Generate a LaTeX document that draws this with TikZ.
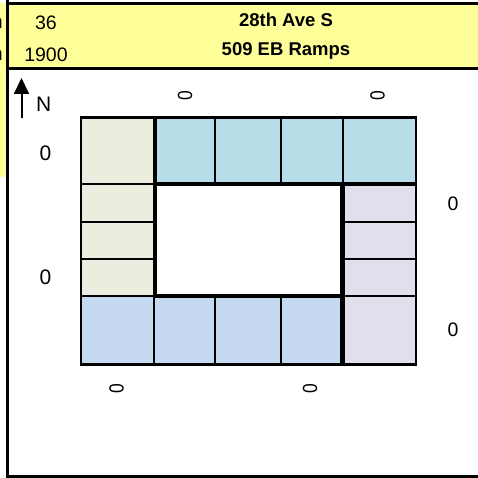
\documentclass[tikz,border=0pt]{standalone}
\usepackage{fontspec}
\usepackage{graphicx}
\setmainfont{Liberation Sans}
\usetikzlibrary{arrows.meta}
\definecolor{hdr}{HTML}{FFFF99}
\definecolor{cgreen}{HTML}{EBEEDF}
\definecolor{cteal}{HTML}{B7DDE8}
\definecolor{clav}{HTML}{E1DFEC}
\definecolor{cblue}{HTML}{C5D9F1}
\tikzset{
  cell/.style={draw=black, line width=2pt},
  thick line/.style={line width=4.2pt},
  frame/.style={line width=2.6pt},
  lblw/.style={font=\fontsize{21}{22}\selectfont, inner sep=0pt},
  lble/.style={font=\fontsize{19.5}{22}\selectfont, inner sep=0pt},
  lblr/.style={font=\fontsize{20.5}{22}\selectfont, inner sep=0pt},
  hd/.style={font=\fontsize{19.5}{22}\selectfont, inner sep=0pt},
  hdb/.style={font=\bfseries\fontsize{18.5}{22}\selectfont, inner sep=0pt},
}
\newcommand{\rotzero}{\scalebox{1}[0.85]{\rotatebox{90}{0}}}
\begin{document}
\begin{tikzpicture}[x=1pt,y=-1pt]
\useasboundingbox (0,0) rectangle (478,478);
% header band
\fill[hdr] (0,3.5) rectangle (478,68.5);
\fill[hdr] (0,3.5) rectangle (7,177);
% clipped left text
\node[hd, anchor=east] (ca) at (3,23) {n};
\node[hd, anchor=east] (cb) at (3,55) {n};
% frame lines
\draw[frame] (7.5,0) -- (7.5,478);
\draw[frame] (7.5,3.5) -- (478,3.5);
\draw[frame] (7.5,68.5) -- (478,68.5);
\draw[frame] (7.5,476.5) -- (478,476.5);
% header texts
\node[hd] (v1) at (46,22.5) {36};
\node[hd] (v2) at (46,55) {1900};
\node[hdb] (s1) at (286,19.5) {28th Ave S};
\node[hdb] (s2) at (286,51) {509 EB Ramps};
% north arrow
\coordinate (nb) at (21.5,118);
\coordinate (nt) at (21.5,78);
\draw[line width=2pt, -{Triangle[length=16pt,width=15pt]}] (nb) -- (nt);
\node[font=\fontsize{21}{22}\selectfont, inner sep=0pt] (N) at (43.7,104) {N};
% cells: top row
\draw[cell, fill=cgreen] (81,117.5) rectangle (155,184);
\draw[cell, fill=cteal] (155,117.5) rectangle (215,184);
\draw[cell, fill=cteal] (215,117.5) rectangle (281,184);
\draw[cell, fill=cteal] (281,117.5) rectangle (342.5,184);
\draw[cell, fill=cteal] (342.5,117.5) rectangle (416,184);
% left column
\draw[cell, fill=cgreen] (81,184) rectangle (155,222);
\draw[cell, fill=cgreen] (81,222) rectangle (155,259);
\draw[cell, fill=cgreen] (81,259) rectangle (155,296);
% right column
\draw[cell, fill=clav] (342.5,184) rectangle (416,222);
\draw[cell, fill=clav] (342.5,222) rectangle (416,259);
\draw[cell, fill=clav] (342.5,259) rectangle (416,296);
% bottom row
\draw[cell, fill=cblue] (81,296) rectangle (154,364.5);
\draw[cell, fill=cblue] (154,296) rectangle (215,364.5);
\draw[cell, fill=cblue] (215,296) rectangle (281,364.5);
\draw[cell, fill=cblue] (281,296) rectangle (342.5,364.5);
\draw[cell, fill=clav] (342.5,296) rectangle (416,364.5);
% centre
\draw[thick line, fill=white] (155,184) rectangle (342.5,296);
% thick separators
\draw[thick line] (155,117.5) -- (155,184);
\draw[thick line] (342.5,184) -- (416,184);
\draw[thick line] (342.5,296) -- (342.5,364.5);
% outer border
\draw[frame] (81,117.5) rectangle (416,364.5);
% volume labels
\node[lblw] (w1) at (45.5,153) {0};
\node[lblw] (w2) at (45.5,277) {0};
\node[lble] (e1) at (453,204) {0};
\node[lble] (e2) at (453,330) {0};
\node[lblr] (n1) at (185,95.5) {\rotzero};
\node[lblr] (n2) at (377.5,95.5) {\rotzero};
\node[lblr] (s1z) at (116.5,389) {\rotzero};
\node[lblr] (s2z) at (310,389) {\rotzero};
\end{tikzpicture}
\end{document}
